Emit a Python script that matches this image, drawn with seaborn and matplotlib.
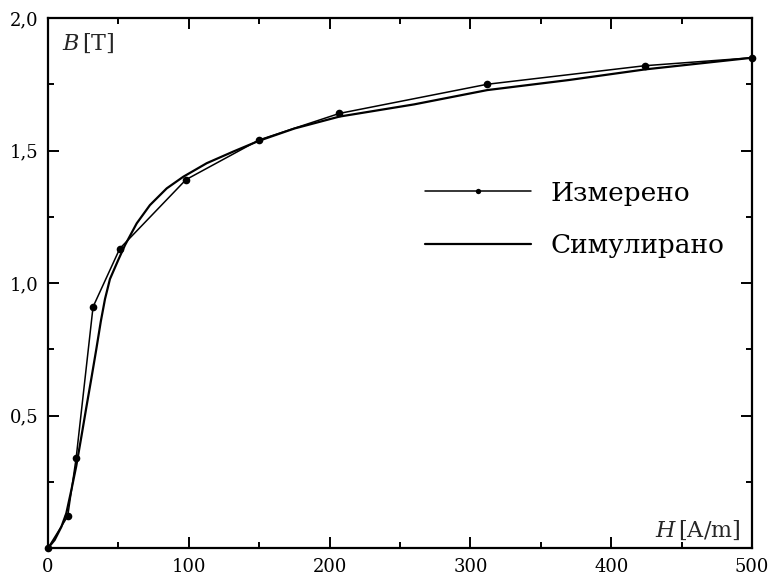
import matplotlib
matplotlib.use("Agg")
import matplotlib.pyplot as plt
import matplotlib.ticker as mticker
import pandas as pd
import seaborn as sns

# measured B-H points
h_measured = [0, 14, 20, 32, 51, 98, 150, 207, 312, 424, 500]
b_measured = [0, 0.12, 0.34, 0.91, 1.13, 1.39, 1.54, 1.64, 1.75, 1.82, 1.85]

# simulated curve
h_simulated = [0, 4.7, 9.5, 13, 16.6, 20.1, 23.7, 27.2, 30.8, 34.3, 37.5, 40.5, 44, 49.9, 54.7,
               63, 72.4, 84.3, 96.1, 112.7, 131.6, 150, 175, 207, 260, 312, 370, 424, 500]
b_simulated = [0, 0.03, 0.08, 0.131, 0.219, 0.31, 0.42, 0.53, 0.64, 0.75, 0.855, 0.94, 1.015,
               1.087, 1.143, 1.225, 1.294, 1.357, 1.401, 1.452, 1.496, 1.537, 1.583, 1.628,
               1.674, 1.728, 1.766, 1.806, 1.85]

label_measured = "Измерено"
label_simulated = "Симулирано"
y_ticks = [0, 0.5, 1.0, 1.5, 2.0]


def main():
    sns.set_style("ticks")
    plt.rcParams["font.family"] = ["DejaVu Serif"]
    plt.rcParams["mathtext.fontset"] = "dejavuserif"

    df_meas = pd.DataFrame({"H": h_measured, "B": b_measured})
    df_sim = pd.DataFrame({"H": h_simulated, "B": b_simulated})

    fig = plt.figure(figsize=(7.74, 5.80), dpi=100)
    ax = fig.add_axes([48 / 774, 32 / 580, 704 / 774, 530 / 580])

    sns.lineplot(data=df_meas, x="H", y="B", ax=ax, color="black", lw=1.1,
                 marker="o", markersize=5.5, markeredgewidth=0, sort=False,
                 label=label_measured, clip_on=False, zorder=3)
    sns.lineplot(data=df_sim, x="H", y="B", ax=ax, color="black", lw=1.6,
                 sort=False, label=label_simulated)

    ax.set_xlim(0, 500)
    ax.set_ylim(0, 2.0)
    ax.xaxis.set_major_locator(mticker.MultipleLocator(100))
    ax.xaxis.set_minor_locator(mticker.MultipleLocator(50))
    ax.yaxis.set_major_locator(mticker.FixedLocator(y_ticks))
    ax.yaxis.set_minor_locator(mticker.MultipleLocator(0.25))
    ax.yaxis.set_major_formatter(mticker.FuncFormatter(
        lambda v, p: "" if v == 0 else f"{v:.1f}".replace(".", ",")))

    for s in ax.spines.values():
        s.set_visible(True)
        s.set_linewidth(1.6)
        s.set_color("black")
    ax.tick_params(which="both", direction="in", top=True, right=True,
                   width=1.4, colors="black", labelsize=13)
    ax.tick_params(which="major", length=8, pad=7)
    ax.tick_params(which="minor", length=4.5)
    ax.set_xlabel("")
    ax.set_ylabel("")

    ax.text(0.02, 0.975, r"$B\,[\mathrm{T}]$", transform=ax.transAxes,
            ha="left", va="top", fontsize=16)
    ax.text(0.983, 0.012, r"$H\,[\mathrm{A/m}]$", transform=ax.transAxes,
            ha="right", va="bottom", fontsize=16)

    leg = ax.legend(loc="center left", bbox_to_anchor=(0.5355, 0.62),
                    frameon=False, fontsize=19, handlelength=4.0,
                    handletextpad=0.75, labelspacing=1.05, borderpad=0,
                    borderaxespad=0, markerscale=0.7)
    for t in leg.get_texts():
        t.set_color("black")

    fig.savefig("out.png", dpi=100)


if __name__ == "__main__":
    main()
